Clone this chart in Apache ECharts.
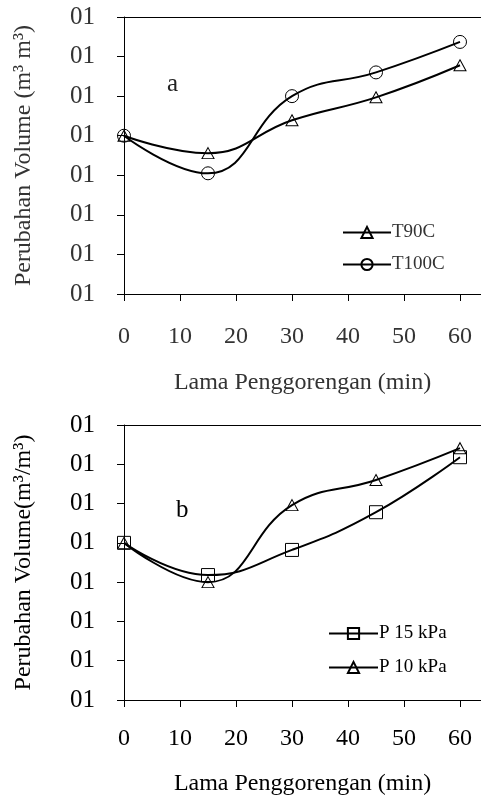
<!DOCTYPE html>
<html>
<head>
<meta charset="utf-8">
<script src="https://cdn.jsdelivr.net/npm/echarts@6/dist/echarts.min.js"></script>
<style>
  html, body { margin: 0; padding: 0; background: #fff; }
  #main { width: 481px; height: 799px; }
</style>
</head>
<body>
<div id="main"></div>
<script>
var minutes = [0, 15, 30, 45, 60];
var yTickLabels = ['01', '01', '01', '01', '01', '01', '01', '01'];
var xTickLabels = [0, 10, 20, 30, 40, 50, 60];

// panel a (suhu)
var t90c = [4.0, 3.56, 4.39, 4.97, 5.78];
var t100c = [4.0, 3.05, 5.0, 5.6, 6.37];
// panel b (tekanan)
var p15kpa = [4.0, 3.18, 3.82, 4.78, 6.18];
var p10kpa = [4.0, 3.0, 4.96, 5.6, 6.41];

var font = 'Liberation Serif';

function pairs(ys) {
    return minutes.map(function (m, i) { return [m, ys[i]]; });
}

function xAxisFor(gridIndex, color, margin, gap) {
    return {
        type: 'value',
        gridIndex: gridIndex,
        min: 0,
        max: 63.75,
        interval: 10,
        name: 'Lama Penggorengan (min)',
        nameLocation: 'middle',
        nameGap: gap,
        nameTextStyle: { fontFamily: font, fontSize: 24, color: color },
        axisLine: { show: true, lineStyle: { color: '#000', width: 1 } },
        axisTick: { show: true, inside: false, length: 7, lineStyle: { color: '#000' } },
        axisLabel: {
            margin: margin, fontFamily: font, fontSize: 24, color: color,
            showMaxLabel: false,
            formatter: function (v) { return xTickLabels.indexOf(v) >= 0 ? String(v) : ''; }
        },
        splitLine: { show: false }
    };
}

// garis batas atas
function topAxisFor(gridIndex) {
    return {
        type: 'value',
        gridIndex: gridIndex,
        position: 'top',
        min: 0,
        max: 63.75,
        axisLine: { show: true, lineStyle: { color: '#000', width: 1 } },
        axisTick: { show: false },
        axisLabel: { show: false },
        splitLine: { show: false }
    };
}

function yAxisFor(gridIndex, color, name) {
    return {
        type: 'value',
        gridIndex: gridIndex,
        min: 0,
        max: 7,
        interval: 1,
        name: name,
        nameLocation: 'middle',
        nameGap: 88,
        nameTextStyle: { fontFamily: font, fontSize: 24, color: color },
        axisLine: { show: true, lineStyle: { color: '#000', width: 1 } },
        axisTick: { show: true, inside: false, length: 7, lineStyle: { color: '#000' } },
        axisLabel: {
            margin: 29, fontFamily: font, fontSize: 25, color: color,
            formatter: function (v) { return yTickLabels[v]; }
        },
        splitLine: { show: false }
    };
}

function lineSeries(name, data, symbol, size, axisIndex) {
    return {
        name: name,
        type: 'line',
        xAxisIndex: axisIndex,
        yAxisIndex: axisIndex,
        data: pairs(data),
        smooth: 0.45,
        symbol: symbol,
        symbolSize: size,
        color: '#000',
        lineStyle: { color: '#000', width: 2 },
        itemStyle: { color: 'rgba(255,255,255,0)', borderColor: '#000', borderWidth: 1 }
    };
}

var chart = echarts.init(document.getElementById('main'));
chart.setOption({
    backgroundColor: '#fff',
    animation: false,
    grid: [
        { left: 124, top: 17, width: 357, height: 277 },
        { left: 124, top: 425, width: 357, height: 275 }
    ],
    title: [
        { text: 'a', left: 162, top: 67, textStyle: { fontFamily: font, fontSize: 25, fontWeight: 'normal', color: '#222' } },
        { text: 'b', left: 171, top: 493, textStyle: { fontFamily: font, fontSize: 25, fontWeight: 'normal', color: '#000' } }
    ],
    xAxis: [
        xAxisFor(0, '#333', 31, 77),
        xAxisFor(1, '#000', 27, 72),
        topAxisFor(0),
        topAxisFor(1)
    ],
    yAxis: [
        yAxisFor(0, '#333', 'Perubahan Volume (m³ m³)'),
        yAxisFor(1, '#000', 'Perubahan Volume(m³/m³)')
    ],
    legend: [
        {
            data: ['T90C', 'T100C'],
            orient: 'vertical',
            left: 337, top: 218,
            itemWidth: 48, itemHeight: 14, itemGap: 13,
            textStyle: { fontFamily: font, fontSize: 19, color: '#333', padding: [0, 0, 0, -4] }
        },
        {
            data: ['P 15 kPa', 'P 10 kPa'],
            orient: 'vertical',
            left: 323, top: 619,
            itemWidth: 49, itemHeight: 14, itemGap: 15,
            textStyle: { fontFamily: font, fontSize: 19, color: '#000', padding: [0, 0, 0, -4] }
        }
    ],
    series: [
        lineSeries('T90C', t90c, 'triangle', [12, 11], 0),
        lineSeries('T100C', t100c, 'circle', 13, 0),
        lineSeries('P 15 kPa', p15kpa, 'rect', 13, 1),
        lineSeries('P 10 kPa', p10kpa, 'triangle', [12, 11], 1)
    ]
});
</script>
</body>
</html>
